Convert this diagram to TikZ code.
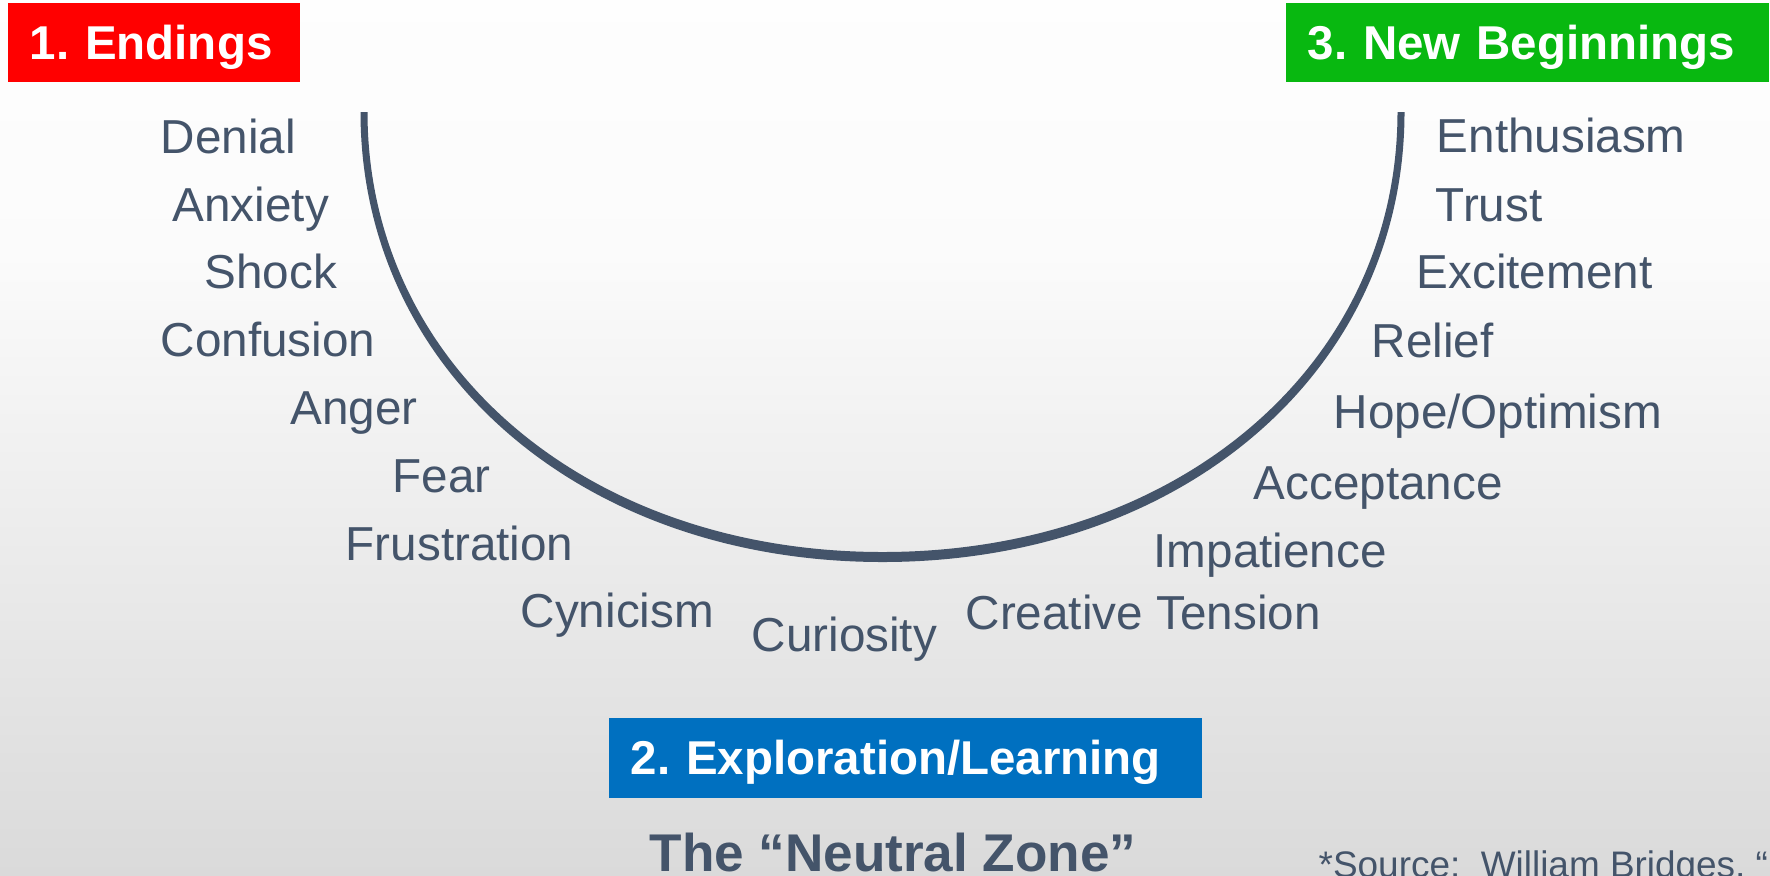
\documentclass[tikz,border=0pt]{standalone}
\usepackage{fontspec}
\setmainfont{Liberation Sans}
\frenchspacing
\usetikzlibrary{positioning}

\definecolor{slate}{HTML}{44546A}
\definecolor{endred}{HTML}{FF0000}
\definecolor{newgreen}{HTML}{08B810}
\definecolor{zoneblue}{HTML}{0070C0}

\begin{document}
\begin{tikzpicture}[x=0.01cm, y=-0.01cm,
    feeling/.style={anchor=base west, inner sep=0pt, text=slate,
                    font=\fontsize{13.55pt}{15pt}\selectfont},
    phase/.style={anchor=north west, inner xsep=0.22cm, inner ysep=0pt,
                  text=white, align=left, text height=9.7pt, text depth=0pt,
                  font=\fontsize{13.5pt}{16pt}\selectfont\bfseries}]
  \useasboundingbox (0,0) rectangle (1770,875);
  \clip (0,0) rectangle (1770,875);
  % soft grey fade towards the bottom
  \shade[top color=white!99!gray, bottom color=white!97!gray]
    (0,0) rectangle (1770,251);
  \shade[top color=white!97!gray, bottom color=white!71!gray]
    (0,250) rectangle (1770,875);

  % the U curve, a bit heavier at the bottom
  \fill[slate] (360.5,112) .. controls (360.5,371) and (582.5,562) .. (882.5,562)
    .. controls (1182.5,562) and (1404.5,371) .. (1404.5,112)
    -- (1397.5,112) .. controls (1397.5,365) and (1178.5,552) .. (882.5,552)
    .. controls (586.5,552) and (367.5,365) .. (367.5,112) -- cycle;

  % the three phases
  \node[phase, fill=endred, minimum height=0.79cm, text width=2.48cm] (endings)
    at (7,2) {\mbox{1. Endings}};
  \node[phase, fill=newgreen, minimum height=0.79cm, text width=4.39cm] (newstart)
    at (1285,2) {\mbox{3. New Beginnings}};
  \node[phase, fill=zoneblue, minimum height=0.80cm, text width=5.49cm] (explore)
    at (608,717) {\mbox{2. Exploration/Learning}};
  \node[anchor=base, inner sep=0pt, text=slate,
        font=\fontsize{15.1pt}{18pt}\selectfont\bfseries] (neutral)
    at (893,871) {The “Neutral Zone”};

  % left side, going down
  \node[feeling] (denial) at (160,153) {Denial};
  \node[feeling] (anxiety) at (172,221) {Anxiety};
  \node[feeling] (shock) at (204,288) {Shock};
  \node[feeling] (confusion) at (160,356) {Confusion};
  \node[feeling] (anger) at (290,424) {Anger};
  \node[feeling] (fear) at (392,492) {Fear};
  \node[feeling] (frustration) at (345,560) {Frustration};
  % bottom of the U
  \node[feeling] (cynicism) at (520,627) {Cynicism};
  \node[feeling] (curiosity) at (751,651) {Curiosity};
  \node[feeling] (tension) at (965,629) {Creative Tension};
  % right side, going up
  \node[feeling] (impatience) at (1153,567) {Impatience};
  \node[feeling] (acceptance) at (1253,499) {Acceptance};
  \node[feeling] (hope) at (1333,428) {Hope/Optimism};
  \node[feeling] (relief) at (1371,357) {Relief};
  \node[feeling] (excitement) at (1416,288) {Excitement};
  \node[feeling] (trust) at (1435,221) {Trust};
  \node[feeling] (enthusiasm) at (1436,152) {Enthusiasm};

  \node[anchor=base west, inner sep=0pt, text=slate,
        font=\fontsize{10.5pt}{12pt}\selectfont] (source)
    at (1318,877) {*Source:~~William Bridges, “};
\end{tikzpicture}
\end{document}
